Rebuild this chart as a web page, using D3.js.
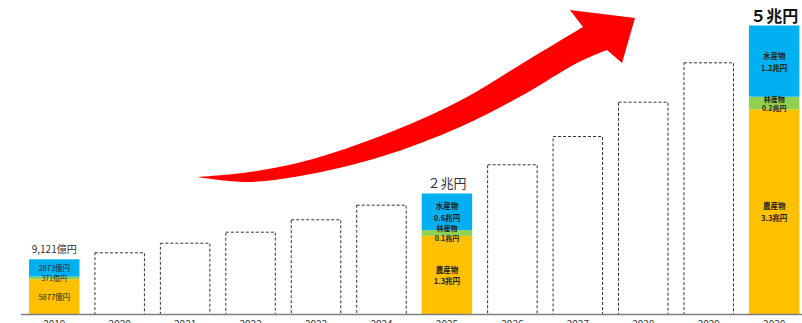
<!DOCTYPE html>
<html><head><meta charset="utf-8">
<script src="https://cdn.jsdelivr.net/npm/d3@7/dist/d3.min.js"></script>
<style>
html,body{margin:0;padding:0;background:#fff;overflow:hidden}
svg{display:block;font-family:"Noto Sans CJK JP","Noto Sans",sans-serif}
</style></head><body>
<svg id="c" width="802" height="323"></svg>
<script>
// ---- data (億円) ----
const years = ["2019","2020","2021","2022","2023","2024","2025","2026","2027","2028","2029","2030"];
const agri   = [6100, null, null, null, null, null, 13600, null, null, null, null, 35500];
const forest = [450,  null, null, null, null, null, 990,   null, null, null, null, 2180];
const fish   = [3000, null, null, null, null, null, 6350,  null, null, null, null, 12320];
const projected = [null, 10760, 12420, 14330, 16470, 19000, null, 25990, 30880, 36820, 43630, null];
const totalLabels = {"2019":"9,121億円","2025":"２兆円","2030":"５兆円"};
const segLabels2019 = ["5877億円","371億円","2873億円"];
const segLabels2025 = [["農産物","1.3兆円"],["林産物","0.1兆円"],["水産物","0.6兆円"]];
const segLabels2030 = [["農産物","3.3兆円"],["林産物","0.2兆円"],["水産物","1.2兆円"]];
const colors = ["#FFC000","#92D050","#00B0F0"];

(function(){
const svg = d3.select("#c");
const x = d3.scaleBand().domain(years).range([21.5, 806.9]).paddingInner(0.2284).paddingOuter(0.1142);
const y = d3.scaleLinear().domain([0, 50000]).range([314.5, 25.5]);

// stacked bars
const rows = years.map((yr,i)=>({year:yr, agri:agri[i]||0, forest:forest[i]||0, fish:fish[i]||0}));
const stack = d3.stack().keys(["agri","forest","fish"])(rows);
stack.forEach((layer,li)=>{
  svg.append("g").selectAll("rect").data(layer.filter(d=>d[1]>d[0])).join("rect")
    .attr("x", d=>x(d.data.year)).attr("width", x.bandwidth())
    .attr("y", d=>y(d[1])).attr("height", d=>y(d[0])-y(d[1]))
    .attr("fill", colors[li]);
});

// projected dashed bars
svg.append("g").selectAll("rect").data(years.map((yr,i)=>({year:yr,v:projected[i]})).filter(d=>d.v))
  .join("rect")
  .attr("x", d=>x(d.year)+0.5).attr("width", x.bandwidth()-1)
  .attr("y", d=>y(d.v)+0.5).attr("height", d=>y(0)-y(d.v)-0.5)
  .attr("fill","none").attr("stroke","#333").attr("stroke-width",1).attr("stroke-dasharray","3,2");

// axis
const ax = svg.append("g").attr("transform",`translate(0,${y(0)})`)
  .call(d3.axisBottom(x).tickSize(0).tickPadding(6));
ax.select(".domain").remove();
ax.selectAll("text").attr("font-size",10).attr("fill","#333").attr("font-family","Noto Sans CJK JP");
svg.append("line").attr("x1",21).attr("x2",802).attr("y1",y(0)).attr("y2",y(0))
  .attr("stroke","#7f7f7f").attr("stroke-width",1.5);

// segment labels
function segText(yr, idx, lines, size, bold, dyList){
  const li = years.indexOf(yr);
  const s = stack[idx][li];
  const cx = x(yr)+x.bandwidth()/2;
  const cy = (y(s[0])+y(s[1]))/2;
  lines.forEach((t,k)=>{
    svg.append("text").attr("x",cx).attr("y",cy+dyList[k])
      .attr("text-anchor","middle").attr("dominant-baseline","central")
      .attr("font-size",size).attr("font-weight",bold?"bold":"normal").attr("fill","#222").text(t);
  });
}
segText("2019",0,[segLabels2019[0]],7.5,false,[0]);
segText("2019",1,[segLabels2019[1]],7,false,[0]);
segText("2019",2,[segLabels2019[2]],7.5,false,[0]);
segText("2025",0,segLabels2025[0],7.5,true,[-6,5]);
segText("2025",2,segLabels2025[2],7.5,true,[-6,6]);
segText("2025",1,segLabels2025[1],7,true,[-5,5]);
segText("2030",0,segLabels2030[0],7.5,true,[-6,6]);
segText("2030",2,segLabels2030[2],7.5,true,[-6,6]);
segText("2030",1,segLabels2030[1],7,true,[-4.5,5]);

// totals
function totalText(yr, size, bold, gap){
  const li = years.indexOf(yr);
  const t = y(agri[li]+forest[li]+fish[li]);
  svg.append("text").attr("x",x(yr)+x.bandwidth()/2).attr("y",t-gap)
    .attr("text-anchor","middle").attr("font-size",size).attr("font-weight",bold?"bold":"normal")
    .attr("fill", bold?"#111":"#333").text(totalLabels[yr]);
}
totalText("2019",10,false,6);
totalText("2025",13,false,5);
totalText("2030",16,true,4);

// red arrow (decoration)
const upper = [[197,177],[250,172],[313,159],[403,127],[467,97],[523,63],[583,27]];
const lower = [[607,50],[577,63],[523,95],[460,127],[380,157],[300,176],[247,182],[197,177]];
const line = d3.line().curve(d3.curveCatmullRom.alpha(0.5));
const head = [[583,27],[570,10],[635,18],[622,63],[607,50]];
const p = line(upper) + "L" + head.slice(1).map(d=>d.join(",")).join("L") + line(lower).replace(/^M/,"L") + "Z";
svg.append("path").attr("d",p).attr("fill","#FF0000");
})();
</script>
</body></html>
